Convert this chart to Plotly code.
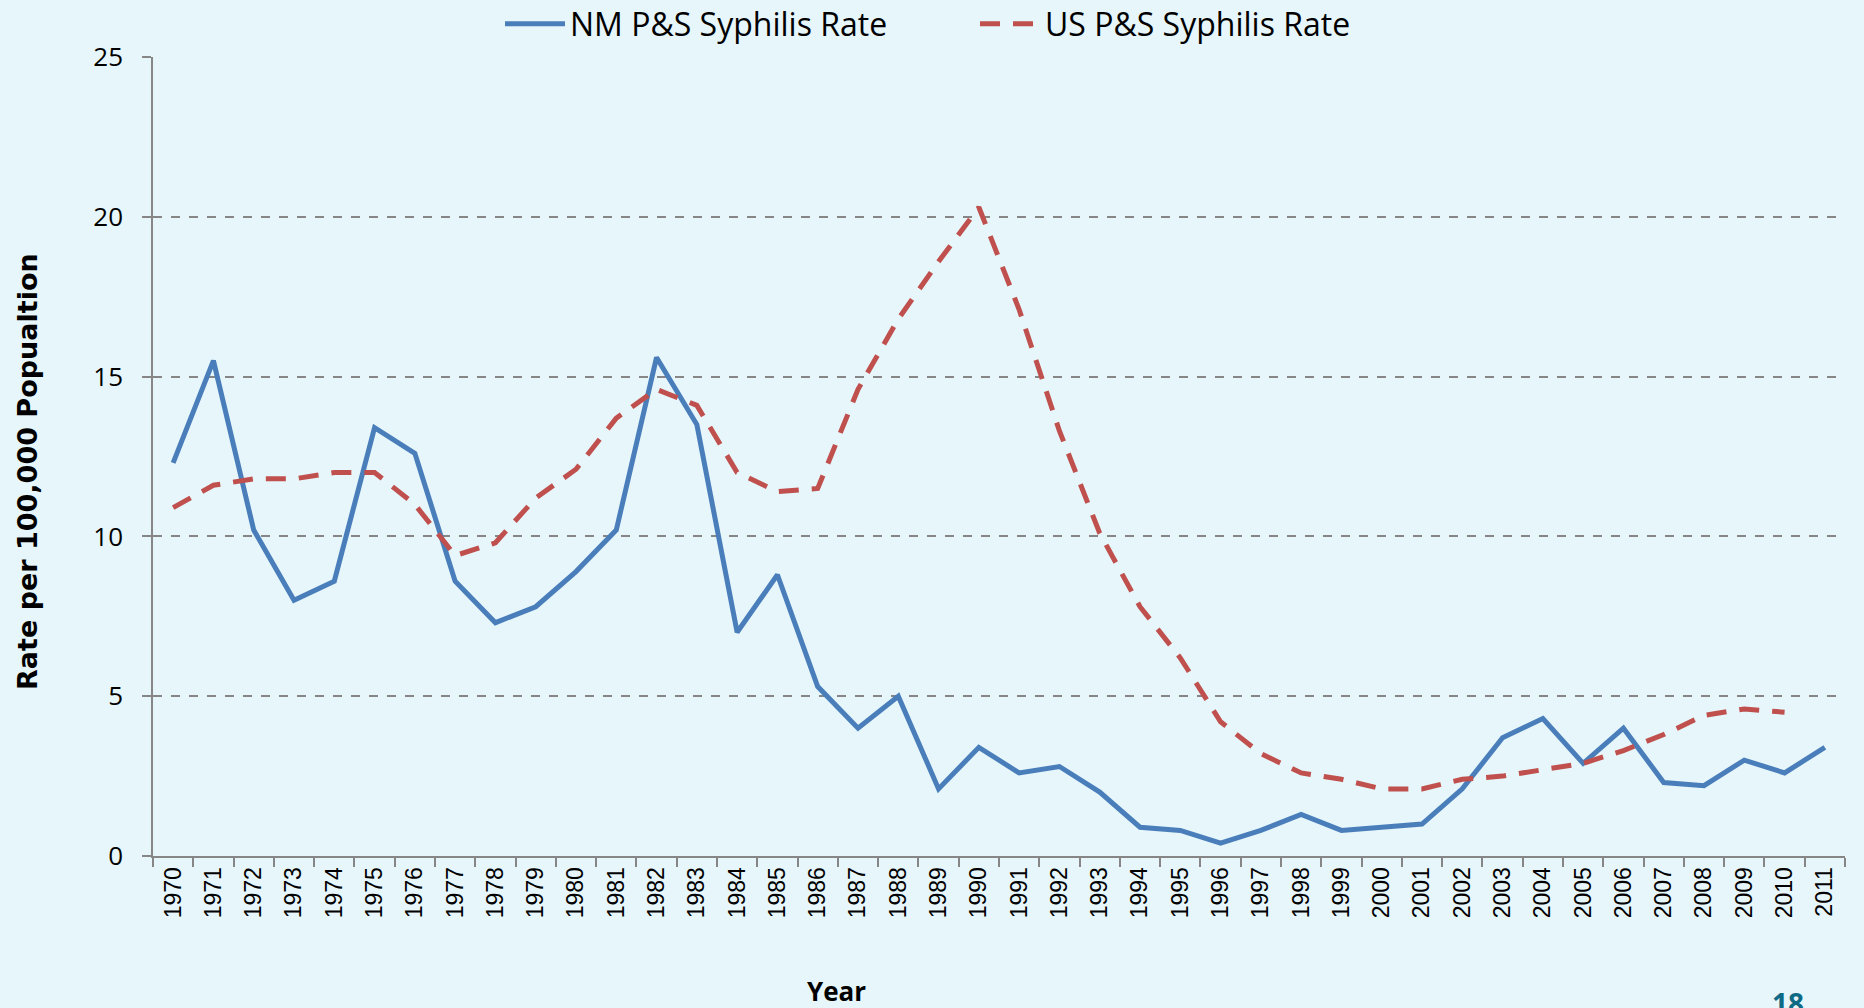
import plotly.graph_objects as go

years = [str(y) for y in range(1970, 2012)]
nm_rate = [12.3, 15.5, 10.2, 8.0, 8.6, 13.4, 12.6, 8.6, 7.3, 7.8,
           8.9, 10.2, 15.6, 13.5, 7.0, 8.8, 5.3, 4.0, 5.0, 2.1,
           3.4, 2.6, 2.8, 2.0, 0.9, 0.8, 0.4, 0.8, 1.3, 0.8,
           0.9, 1.0, 2.1, 3.7, 4.3, 2.9, 4.0, 2.3, 2.2, 3.0,
           2.6, 3.4]
us_rate = [10.9, 11.6, 11.8, 11.8, 12.0, 12.0, 11.0, 9.4, 9.8, 11.2,
           12.1, 13.7, 14.6, 14.1, 12.0, 11.4, 11.5, 14.6, 16.8, 18.6,
           20.3, 17.1, 13.3, 10.1, 7.8, 6.2, 4.2, 3.2, 2.6, 2.4,
           2.1, 2.1, 2.4, 2.5, 2.7, 2.9, 3.3, 3.8, 4.4, 4.6,
           4.5, None]
y_ticks = [0, 5, 10, 15, 20, 25]

BG = "#e6f6fa"
AX = "#868686"
W, H = 1864, 1008
L, R, T, B = 153, 19, 57, 152
PW, PH = W - L - R, H - T - B


def px_x(x):
    return (x - L) / PW


def px_y(y):
    return (H - B - y) / PH


fig = go.Figure()
fig.add_trace(go.Scatter(
    x=years, y=nm_rate, mode="lines", name="NM P&S Syphilis Rate",
    line=dict(color="#4a7ebb", width=5),
))
fig.add_trace(go.Scatter(
    x=years, y=us_rate, mode="lines", name="US P&S Syphilis Rate",
    line=dict(color="#c0504d", width=5, dash="20px,13px"),
    connectgaps=False,
))

fig.update_layout(
    width=W, height=H,
    paper_bgcolor=BG, plot_bgcolor=BG,
    margin=dict(l=L, r=R, t=T, b=B, autoexpand=False),
    showlegend=True,
    legend=dict(orientation="h", x=px_x(500), xanchor="left", y=px_y(24), yanchor="middle",
                font=dict(family="Open Sans", size=32, color="#000000"),
                bgcolor="rgba(0,0,0,0)", itemwidth=60, entrywidth=400, tracegroupgap=0),
    xaxis=dict(
        type="category", range=[-0.5, 41.5],
        tickangle=-90, tickson="boundaries",
        ticks="outside", ticklen=9, tickcolor=AX, tickwidth=1.5,
        showline=True, linecolor=AX, linewidth=2,
        showgrid=False, zeroline=False,
        tickfont=dict(family="Liberation Sans", size=23, color="#000000"),
    ),
    yaxis=dict(
        range=[0, 25], tickvals=y_ticks,
        ticks="outside", ticklen=9, tickcolor=AX, tickwidth=1.5,
        showline=True, linecolor=AX, linewidth=1.5,
        showgrid=True, gridcolor=AX, gridwidth=2, griddash="dash",
        zeroline=False, ticklabelstandoff=14,
        tickfont=dict(family="Open Sans", size=26, color="#000000"),
    ),
)

fig.add_annotation(
    text="<b>Rate per 100,000 Popualtion</b>", xref="paper", yref="paper",
    x=px_x(28), y=px_y(472), xanchor="center", yanchor="middle", textangle=-90,
    showarrow=False, font=dict(family="DejaVu Sans", size=27, color="#000000"),
)
fig.add_annotation(
    text="<b>Year</b>", xref="paper", yref="paper",
    x=px_x(836), y=px_y(991), xanchor="center", yanchor="middle",
    showarrow=False, font=dict(family="Open Sans", size=26, color="#000000"),
)
fig.add_annotation(
    text="<b>18</b>", xref="paper", yref="paper",
    x=px_x(1788), y=px_y(1003), xanchor="center", yanchor="middle", showarrow=False,
    font=dict(family="Open Sans", size=28, color="#0f6b85"),
)

fig.write_html("out.html", config={"displayModeBar": False},
               post_script="document.body.style.margin='0';document.body.style.background='%s';" % BG)
